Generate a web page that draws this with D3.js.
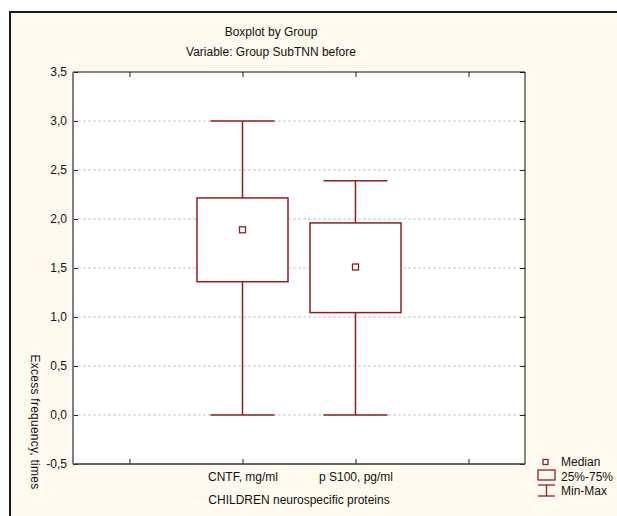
<!DOCTYPE html>
<html>
<head>
<meta charset="utf-8">
<script src="https://cdn.jsdelivr.net/npm/d3@7"></script>
<style>
  body { margin: 0; background: #fff; }
  text { font-family: "Liberation Sans", Arial, sans-serif; font-size: 12px; fill: #111; }
</style>
</head>
<body>
<script>
// data
let groups = ["CNTF, mg/ml", "p S100, pg/ml"];
let mins = [0.0, 0.0];
let q1 = [1.36, 1.045];
let medians = [1.89, 1.51];
let q3 = [2.215, 1.96];
let maxs = [3.0, 2.39];
let xSlots = ["", "CNTF, mg/ml", "p S100, pg/ml", ""];
let yTicks = [-0.5, 0, 0.5, 1.0, 1.5, 2.0, 2.5, 3.0, 3.5];

let W = 617, H = 516;
let plot = { left: 73, right: 525, top: 72, bottom: 464 };
let red = "#8e1f1f";

let svg = d3.select("body").append("svg")
    .attr("width", W)
    .attr("height", H);

// window frame
svg.append("rect")
    .attr("x", 10).attr("y", 12)
    .attr("width", 640).attr("height", 540)
    .attr("fill", "#fffaf0")
    .attr("stroke", "#1a1a1a")
    .attr("stroke-width", 2);

// plot area
svg.append("rect")
    .attr("x", plot.left).attr("y", plot.top)
    .attr("width", plot.right - plot.left)
    .attr("height", plot.bottom - plot.top)
    .attr("fill", "#fff");

let x = d3.scalePoint()
    .domain(d3.range(xSlots.length))
    .range([plot.left, plot.right])
    .padding(0.5);

let y = d3.scaleLinear()
    .domain([-0.5, 3.5])
    .range([plot.bottom, plot.top]);

let fmt = function(d) { return d3.format(".1f")(d).replace(".", ",").replace("\u2212", "-"); };

// grid lines
svg.append("g")
  .selectAll("line")
  .data(yTicks.filter(function(d){ return d > -0.5 && d < 3.5; }))
  .enter().append("line")
    .attr("x1", plot.left).attr("x2", plot.right)
    .attr("y1", function(d){ return y(d); })
    .attr("y2", function(d){ return y(d); })
    .attr("stroke", "#c4c4c4")
    .attr("stroke-dasharray", "3,2");

// axes (inward ticks)
let yAxis = d3.axisLeft(y).tickValues(yTicks).tickFormat(fmt).tickSizeInner(-5).tickSizeOuter(0).tickPadding(6);
let yAxisR = d3.axisRight(y).tickValues(yTicks).tickFormat("").tickSizeInner(-5).tickSizeOuter(0);
let xAxis = d3.axisBottom(x).tickFormat(function(i){ return xSlots[i]; }).tickSizeInner(-5).tickSizeOuter(0).tickPadding(8);
let xAxisT = d3.axisTop(x).tickFormat("").tickSizeInner(-5).tickSizeOuter(0);

svg.append("g").attr("transform", "translate(" + plot.left + ",0)").call(yAxis);
svg.append("g").attr("transform", "translate(" + plot.right + ",0)").call(yAxisR);
svg.append("g").attr("transform", "translate(0," + plot.bottom + ")").call(xAxis);
svg.append("g").attr("transform", "translate(0," + plot.top + ")").call(xAxisT);

svg.selectAll(".domain").remove();
svg.selectAll(".tick line").attr("stroke", "#222");
svg.selectAll(".tick text").attr("font-size", 12).attr("fill", "#111")
    .attr("font-family", "'Liberation Sans', Arial, sans-serif");

// frame of the plot
let frame = svg.append("g");
frame.append("line").attr("x1", plot.left).attr("x2", plot.right).attr("y1", plot.top).attr("y2", plot.top).attr("stroke", "#111");
frame.append("line").attr("x1", plot.right).attr("x2", plot.right).attr("y1", plot.top).attr("y2", plot.bottom).attr("stroke", "#111");
frame.append("line").attr("x1", plot.left).attr("x2", plot.right).attr("y1", plot.bottom).attr("y2", plot.bottom).attr("stroke", "#333").attr("stroke-width", 1.5);
frame.append("line").attr("x1", plot.left).attr("x2", plot.left).attr("y1", plot.top).attr("y2", plot.bottom).attr("stroke", "#808080").attr("stroke-width", 2);

// boxes
let boxW = 91, capW = 64;
let boxes = svg.append("g").selectAll("g")
  .data(groups)
  .enter().append("g");

boxes.append("line")
    .attr("x1", function(d, i){ return x(i + 1); })
    .attr("x2", function(d, i){ return x(i + 1); })
    .attr("y1", function(d, i){ return y(maxs[i]); })
    .attr("y2", function(d, i){ return y(mins[i]); })
    .attr("stroke", red).attr("stroke-width", 1.5);

boxes.append("line")
    .attr("x1", function(d, i){ return x(i + 1) - capW / 2; })
    .attr("x2", function(d, i){ return x(i + 1) + capW / 2; })
    .attr("y1", function(d, i){ return y(maxs[i]); })
    .attr("y2", function(d, i){ return y(maxs[i]); })
    .attr("stroke", red).attr("stroke-width", 1.5);

boxes.append("line")
    .attr("x1", function(d, i){ return x(i + 1) - capW / 2; })
    .attr("x2", function(d, i){ return x(i + 1) + capW / 2; })
    .attr("y1", function(d, i){ return y(mins[i]); })
    .attr("y2", function(d, i){ return y(mins[i]); })
    .attr("stroke", red).attr("stroke-width", 1.5);

boxes.append("rect")
    .attr("x", function(d, i){ return x(i + 1) - boxW / 2; })
    .attr("y", function(d, i){ return y(q3[i]); })
    .attr("width", boxW)
    .attr("height", function(d, i){ return y(q1[i]) - y(q3[i]); })
    .attr("fill", "#fff")
    .attr("stroke", red).attr("stroke-width", 1.5);

boxes.append("rect")
    .attr("x", function(d, i){ return x(i + 1) - 3; })
    .attr("y", function(d, i){ return y(medians[i]) - 3; })
    .attr("width", 6).attr("height", 6)
    .attr("fill", "#fff")
    .attr("stroke", red).attr("stroke-width", 1.3);

// titles
svg.append("text").attr("x", 271).attr("y", 36).attr("text-anchor", "middle").text("Boxplot by Group");
svg.append("text").attr("x", 271).attr("y", 56).attr("text-anchor", "middle").text("Variable: Group SubTNN before");
svg.append("text").attr("x", 299).attr("y", 504).attr("text-anchor", "middle").text("CHILDREN neurospecific proteins");
svg.append("text")
    .attr("transform", "translate(31,422) rotate(90)")
    .attr("text-anchor", "middle")
    .attr("font-size", 14)
    .attr("letter-spacing", 0.25)
    .text("Excess frequency, times");

// legend
let lg = svg.append("g");
lg.append("rect").attr("x", 543).attr("y", 459.5).attr("width", 5).attr("height", 5)
    .attr("fill", "#fff").attr("stroke", red).attr("stroke-width", 1.3);
lg.append("rect").attr("x", 538).attr("y", 470).attr("width", 17).attr("height", 10)
    .attr("fill", "none").attr("stroke", red).attr("stroke-width", 1.3);
lg.append("line").attr("x1", 538).attr("x2", 555).attr("y1", 485).attr("y2", 485).attr("stroke", red).attr("stroke-width", 1.3);
lg.append("line").attr("x1", 538).attr("x2", 555).attr("y1", 496).attr("y2", 496).attr("stroke", red).attr("stroke-width", 1.3);
lg.append("line").attr("x1", 546.5).attr("x2", 546.5).attr("y1", 485).attr("y2", 496).attr("stroke", red).attr("stroke-width", 1.3);
lg.append("text").attr("x", 561).attr("y", 466).text("Median");
lg.append("text").attr("x", 561).attr("y", 481).text("25%-75%");
lg.append("text").attr("x", 561).attr("y", 495).text("Min-Max");
</script>
</body>
</html>
